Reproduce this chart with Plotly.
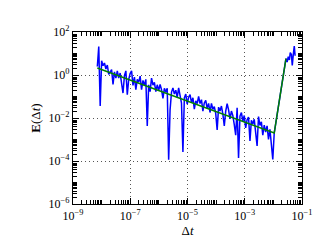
import numpy as np
import plotly.graph_objects as go

# Blue series: measured error E(dt), log-spaced dt from ~7.1e-9 to ~1.07e-2
dt_main_start = 7.08e-9
dt_main_end = 1.07e-2
E_main = [
    2.5, 21, 0.036, 4.6, 2.7, 3.6, 1.9, 2.9, 1.07, 1.45,
    1.8, 0.36, 1.4, 0.72, 1.55, 0.72, 1.23, 0.41, 0.145, 0.93,
    1.55, 0.12, 0.62, 1.17, 1.55, 0.33, 0.79, 0.21, 0.63, 0.47,
    0.89, 0.21, 0.56, 0.33, 0.63, 0.0043, 0.35, 0.17, 0.72, 0.34,
    0.45, 0.17, 0.35, 0.19, 0.36, 0.21, 0.081, 0.24, 0.16, 0.24,
    0.000115, 0.024, 0.16, 0.25, 0.13, 0.195, 0.091, 0.25, 0.13, 0.049,
    0.00026, 0.087, 0.13, 0.044, 0.093, 0.123, 0.052, 0.087, 0.026, 0.062,
    0.047, 0.10, 0.047, 0.071, 0.021, 0.050, 0.066, 0.028, 0.048, 0.018,
    0.048, 0.025, 0.034, 0.016, 0.0028, 0.032, 0.021, 0.036, 0.015, 0.0043,
    0.021, 0.046, 0.024, 0.0091, 0.021, 0.013, 0.0049, 0.0016, 0.030, 0.000138,
    0.0123, 0.018, 0.0069, 0.013, 0.0035, 0.0083, 0.011, 0.00085, 0.0078, 0.0052,
    0.0087, 0.0026, 0.0005, 0.0117, 0.0045, 0.0066, 0.0016, 0.0047, 0.0022, 0.0043,
    0.0010, 0.0030, 0.0005, 0.000117, 0.0020,
]
dt_tail = [0.0275, 0.0302, 0.0331, 0.0363, 0.0389, 0.0427, 0.0457, 0.0501, 0.0537, 0.0575]
E_tail = [5.8, 4.0, 7.1, 5.0, 11, 8.9, 2.8, 10, 22, 7.9]

# Green series: fitted line
dt_fit = [7.08e-9, 1.07e-2, 2.75e-2]
E_fit = [2.1, 0.0020, 5.8]

# Tick labels
x_exponents = [-9, -7, -5, -3, -1]
y_exponents = [-6, -4, -2, 0, 2]

dt_main = np.logspace(np.log10(dt_main_start), np.log10(dt_main_end), len(E_main))
dt_blue = list(dt_main) + dt_tail
E_blue = E_main + E_tail


def minor_vals(lo, hi):
    vals = []
    for k in range(lo, hi):
        for m in range(2, 10):
            vals.append(m * 10.0 ** k)
        vals.append(10.0 ** (k + 1))
    return vals


fig = go.Figure()
fig.add_trace(go.Scatter(x=dt_blue, y=E_blue, mode="lines",
                         line=dict(color="#0000ff", width=1.5), showlegend=False))
fig.add_trace(go.Scatter(x=dt_fit, y=E_fit, mode="lines",
                         line=dict(color="#008000", width=1.5), showlegend=False))

font = dict(family="Liberation Serif", size=12, color="black")
title_font = dict(family="Liberation Serif", size=13, color="black")
common = dict(
    type="log", showline=True, linecolor="black", linewidth=1.3, mirror="allticks",
    ticks="inside", ticklen=6, tickcolor="black", tickwidth=1.3,
    showgrid=True, gridcolor="#555555", griddash="1px,3px", gridwidth=1,
    zeroline=False, tickmode="array", tickfont=font,
)
fig.update_layout(
    xaxis=dict(range=[-9, -1],
               tickvals=[10.0 ** e for e in x_exponents],
               ticktext=["10<sup>−%d</sup>" % -e for e in x_exponents],
               title=dict(text="Δ<i>t</i>", font=title_font, standoff=3),
               minor=dict(tickmode="array", tickvals=minor_vals(-9, -1), ticks="inside",
                          ticklen=4, tickcolor="black", tickwidth=1.3, showgrid=False),
               **common),
    yaxis=dict(range=[-6, 2],
               tickvals=[10.0 ** e for e in y_exponents],
               ticktext=[("10<sup>−%d</sup>" % -e) if e < 0 else ("10<sup>%d</sup>" % e) for e in y_exponents],
               title=dict(text="<b>E</b>(Δ<i>t</i>)", font=title_font, standoff=4),
               minor=dict(tickmode="array", tickvals=minor_vals(-6, 2), ticks="inside",
                          ticklen=4, tickcolor="black", tickwidth=1.3, showgrid=False),
               **common),
    width=327, height=245, margin=dict(l=65, r=33, t=24, b=49),
    plot_bgcolor="white", paper_bgcolor="white", font=font,
)
fig.write_html("out.html")
